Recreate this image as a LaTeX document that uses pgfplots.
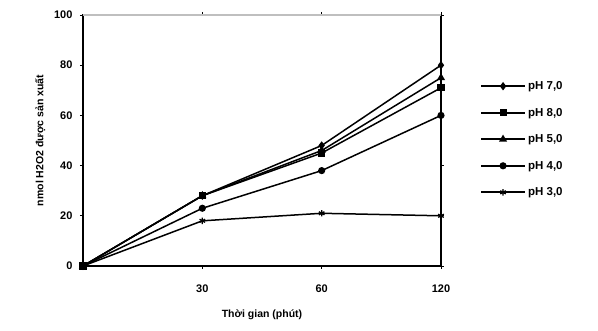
\documentclass[border=0pt]{standalone}
\usepackage{pgfplots}
\pgfplotsset{compat=1.18}
\usepackage{fontspec}
\setmainfont{Liberation Sans}
\begin{document}
\begin{tikzpicture}
\begin{axis}[
  scale only axis,
  width=358pt, height=251pt,
  xmin=0, xmax=3, ymin=0, ymax=100,
  xtick={1,2,3}, xticklabels={30,60,120},
  ytick={0,20,40,60,80,100},
  tick align=outside,
  major tick length=3pt,
  tick style={black, line width=0.8pt},
  axis line style={black, line width=1.2pt},
  /pgf/number format/assume math mode=true,
  ticklabel style={font=\bfseries\fontsize{11}{13}\selectfont},
  xticklabel style={yshift=-12pt},
  yticklabel style={xshift=-4pt},
  xlabel={\bfseries Thời gian (phút)},
  ylabel={\bfseries nmol H2O2 được sản xuất},
  label style={font=\bfseries\fontsize{10.5}{12}\selectfont},
  xlabel style={yshift=-11pt},
  ylabel style={yshift=2pt},
  legend style={at={(1.10,0.752)}, anchor=north west, draw=none, fill=none,
    font=\bfseries\fontsize{11.5}{13}\selectfont, row sep=13pt},
  legend cell align=left,
  legend image code/.code={\draw[black, line width=2pt] (0cm,0cm) -- (1.55cm,0cm); \draw[mark repeat=2, mark phase=2, #1] plot coordinates {(0cm,0cm) (0.775cm,0cm) (1.55cm,0cm)};},
]
\addplot[black, line width=1.5pt, mark=diamond*, mark size=3pt, mark options={solid, fill=black}] coordinates {(0,0) (1,28) (2,48) (3,80)};
\addlegendentry{pH 7,0}
\addplot[black, line width=1.5pt, mark=square*, mark size=2.8pt, mark options={solid, fill=black}] coordinates {(0,0) (1,28) (2,45) (3,71)};
\addlegendentry{pH 8,0}
\addplot[black, line width=1.5pt, mark=triangle*, mark size=3.2pt, mark options={solid, fill=black}] coordinates {(0,0) (1,28) (2,46) (3,75)};
\addlegendentry{pH 5,0}
\addplot[black, line width=1.5pt, mark=*, mark size=2.8pt, mark options={solid, fill=black}] coordinates {(0,0) (1,23) (2,38) (3,60)};
\addlegendentry{pH 4,0}
\addplot[black, line width=1.5pt, mark=asterisk, mark size=3.2pt, mark options={solid, line width=1.3pt}] coordinates {(0,0) (1,18) (2,21) (3,20)};
\addlegendentry{pH 3,0}
\draw[gray!50, line width=1.4pt] (rel axis cs:0,1) -- (rel axis cs:1,1);
\end{axis}
\pgfresetboundingbox
\useasboundingbox ([shift={(-83pt,-65pt)}]current axis.south west) rectangle ([shift={(515pt,266pt)}]current axis.south west);
\end{tikzpicture}
\end{document}
